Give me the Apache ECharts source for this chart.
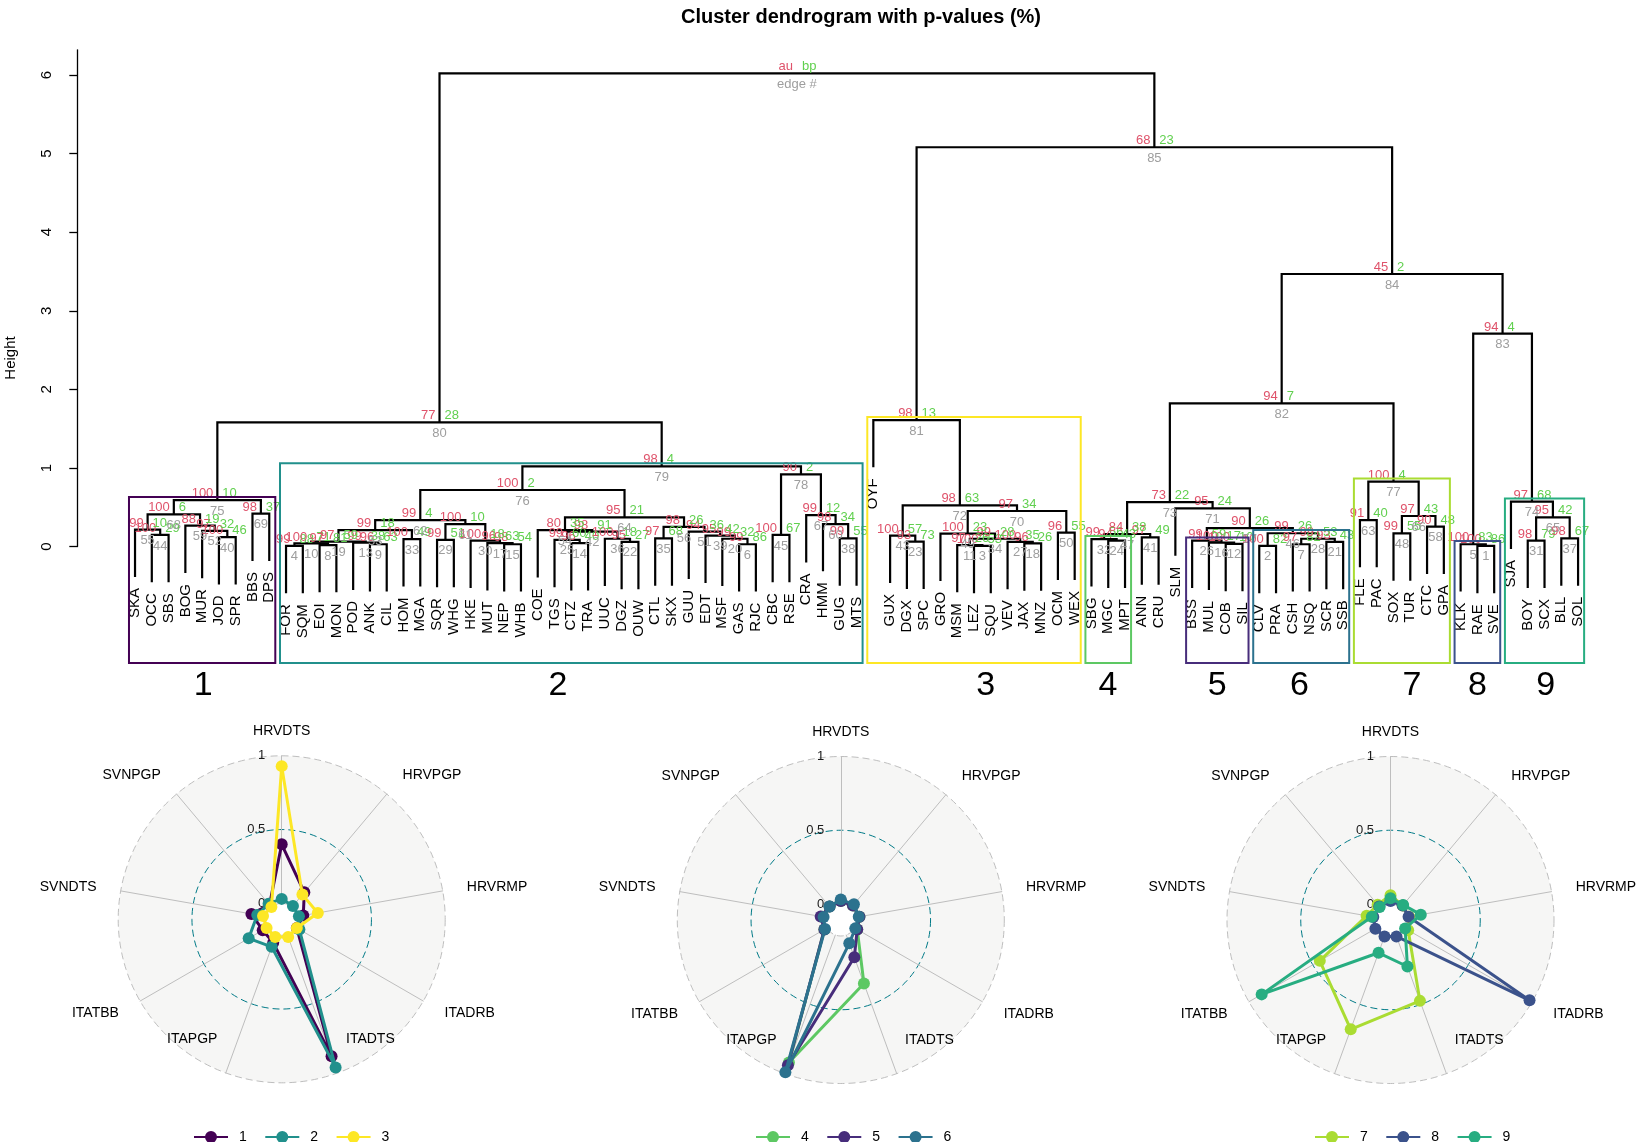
<!DOCTYPE html>
<html><head><meta charset="utf-8">
<script src="https://cdn.jsdelivr.net/npm/echarts@6/dist/echarts.min.js"></script>
<style>html,body{margin:0;padding:0;background:#fff}#c{width:1650px;height:1142px}</style>
</head><body><div id="c"></div>
<script>
// ---------------- DATA ----------------
const leaves = ['SKA','OCC','SBS','BOG','MUR','JOD','SPR','BBS','DPS',
 'FOR','SQM','EOI','MON','POD','ANK','CIL','HOM','MGA','SQR','WHG','HKE','MUT','NEP','WHB','COE','TGS','CTZ','TRA','UUC','DGZ','OUW','CTL','SKX','GUU','EDT','MSF','GAS','RJC','CBC','RSE','CRA','HMM','GUG','MTS',
 'OYF','GUX','DGX','SPC','GRO','MSM','LEZ','SQU','VEV','JAX','MNZ','OCM','WEX',
 'SBG','MGC','MPT','ANN','CRU','SLM','BSS','MUL','COB','SIL','CLV','PRA','CSH','NSQ','SCR','SSB',
 'FLE','PAC','SOX','TUR','CTC','GPA','KLK','RAE','SVE','SJA','BOY','SCX','BLL','SOL'];

// merges: [left, right, height]; negative = leaf position (1-based), positive = earlier merge row (1-based)
const merges = [
 [-2,-3,0.148],[-1,1,0.215],[-6,-7,0.12],[-5,3,0.2],[-4,4,0.266],[2,5,0.41],[-8,-9,0.42],[6,7,0.59],
 [-10,-11,0.01],[-12,-13,0.02],[9,10,0.04],[-15,-16,0.03],[-14,12,0.05],[11,13,0.063],[-17,-18,0.095],[14,15,0.21],
 [-19,-20,0.085],[-23,-24,0.03],[-22,18,0.045],[-21,19,0.075],[17,20,0.287],[16,21,0.338],
 [-27,-28,0.045],[-26,23,0.085],[-30,-31,0.06],[-29,25,0.1],[24,26,0.19],[-25,27,0.21],
 [-32,-33,0.105],[-37,-38,0.03],[-36,30,0.1],[-35,31,0.14],[-34,32,0.19],[29,33,0.25],[28,34,0.373],[22,35,0.72],
 [-39,-40,0.148],[-43,-44,0.105],[-42,38,0.287],[-41,39,0.40],[37,40,0.92],[36,41,1.02],[8,42,1.58],
 [-47,-48,0.063],[-46,44,0.14],[-51,-52,0.01],[-50,46,0.02],[-54,-55,0.04],[-53,48,0.06],[47,49,0.1],[-49,50,0.165],
 [-56,-57,0.177],[51,52,0.453],[45,53,0.525],[-45,54,1.61],
 [-59,-60,0.075],[-58,56,0.095],[-61,-62,0.118],[57,58,0.16],
 [-66,-67,0.035],[-65,60,0.05],[-64,61,0.075],
 [-68,-69,0.01],[-70,-71,0.03],[-72,-73,0.06],[64,65,0.1],[63,66,0.17],[62,67,0.235],[-63,68,0.487],[59,69,0.565],
 [-74,-75,0.338],[-76,-77,0.169],[-78,-79,0.253],[72,73,0.389],[71,74,0.826],[70,75,1.823],
 [-81,-82,0.01],[-80,77,0.03],
 [-84,-85,0.075],[-86,-87,0.105],[79,80,0.373],[-83,81,0.571],
 [78,82,2.71],[76,83,3.468],[55,84,5.08],[43,85,6.02]
];
const au = [100,99,100,97,88,100,98,100, 99,97,100,96,99,97,100,99, 99,98,96,100,100,99,
 96,99,95,100,98,80, 97,99,99,95,94,98,95,100, 100,99,98,99,90,98,77,
 93,100,100,97,96,100,99,100, 96,97,98,98, 94,99,97,84, 100,100,99,
 100,97,93,99,99,90,95,73, 91,99,90,97,100,94, 100,100, 98,98,95,97, 94,45,68,'au'];
const bp = [29,10,46,32,19,6,37,10, 88,81,71,63,38,59,49,18, 51,54,63,18,10,4,
 40,60,27,18,91,35, 68,86,32,42,36,26,21,2, 67,55,34,12,2,4,28,
 73,57,53,26,26,35,28,23, 55,34,63,13, 43,56,49,38, 10,17,59,
 82,82,43,53,26,26,24,22, 40,55,48,43,4,7, 86,83, 79,67,42,68, 4,2,23,'bp'];
const edgeNo = [44,55,40,52,59,68,69,75, 4,8,10,9,13,19,33,53, 29,15,17,30,61,62,
 14,25,22,36,42,54, 35,6,20,39,51,56,64,76, 45,38,60,67,78,79,80,
 23,43,3,11,18,27,34,49, 50,70,72,81, 24,32,41,47, 12,16,26,
 2,7,21,28,46,57,71,73, 63,48,58,66,77,82, 1,5, 31,37,65,74, 83,84,85,'edge #'];

// highlighted clusters: [first leaf, last leaf, merge row of cluster top]
const clusters = [[1,9,8],[10,44,42],[45,57,55],[58,60,57],[64,67,62],[68,73,67],[74,79,75],[80,82,78],[83,87,82]];
const clusterNames = ['1','2','3','4','5','6','7','8','9'];
const clusterColors = ['#440154','#21908C','#FDE725','#5DC863','#472D7B','#2C728E','#AADC32','#3B528B','#27AD81'];
const yTicks = [0,1,2,3,4,5,6];

// radar profiles (scaled 0..1)
const varNames = ['HRVDTS','HRVPGP','HRVRMP','ITADRB','ITADTS','ITAPGP','ITATBB','SVNDTS','SVNPGP'];
const radarTicks = [0, 0.5, 1];
const prof1 = [0.40,0.13,0.04,0.01,0.88,0.06,0.04,0.10,0.02];
const prof2 = [0.03,0.01,0.01,0.03,0.96,0.09,0.15,0.06,0.03];
const prof3 = [0.93,0.11,0.14,0.01,0.02,0.02,0.01,0.02,0.00];
const prof4 = [0.02,0.02,0.02,0.02,0.35,0.92,0.02,0.02,0.01];
const prof5 = [0.02,0.02,0.02,0.02,0.16,0.94,0.02,0.03,0.01];
const prof6 = [0.03,0.03,0.015,0.005,0.06,0.99,0.015,0.01,0.01];
const prof7 = [0.06,0.02,0.02,0.03,0.475,0.68,0.445,0.056,0.027];
const prof8 = [0.02,0.02,0.016,0.98,0.01,0.01,0.01,0.01,0.01];
const prof9 = [0.039,0.025,0.10,0.006,0.227,0.128,0.90,0.02,0.006];
const radarGroups = [[prof1,prof2,prof3],[prof4,prof5,prof6],[prof7,prof8,prof9]];

// ---------------- LAYOUT / STYLE ----------------
const FONT = 'Liberation Sans, Arial, Helvetica, sans-serif';
const HANG = 0.1 * Math.max(...merges.map(m => m[2]));
const BOX_PAD = 0.36, BOX_TOP = 0.04, BOX_BOTTOM = -1.48;
const clusterLabelX = [5.06, 26.2, 51.7, 58.98, 65.5, 70.4, 77.1, 81.0, 85.07];
const RADAR_CENTERS = [[281.7,919.3],[840.8,920],[1390.5,920]];
const R_OUT = 163.5, R_IN = 16;
const LEG_LEFT = [189, 751, 1310];

// ---------------- GEOMETRY ----------------
const nodeX = [], leafBottom = new Array(leaves.length);
const refX = r => r < 0 ? -r : nodeX[r - 1];
merges.forEach((m, i) => {
  nodeX[i] = (refX(m[0]) + refX(m[1])) / 2;
  [m[0], m[1]].forEach(r => { if (r < 0) leafBottom[-r - 1] = m[2] - HANG; });
});
const refY = r => r < 0 ? leafBottom[-r - 1] : merges[r - 1][2];
const segs = merges.map((m, i) => ({xl: refX(m[0]), yl: refY(m[0]), xr: refX(m[1]), yr: refY(m[1]), h: m[2], xm: nodeX[i]}));

function txt(x, y, text, fill, size, align, valign, extra) {
  return Object.assign({type: 'text', x: x, y: y, z2: 10,
    style: {text: String(text), fill: fill, fontSize: size, fontFamily: FONT, align: align, verticalAlign: valign}}, extra || {});
}

function renderMerge(params, api) {
  const i = params.dataIndex, s = segs[i];
  const a = api.coord([s.xl, s.yl]), b = api.coord([s.xl, s.h]), c = api.coord([s.xr, s.h]), d = api.coord([s.xr, s.yr]);
  const m = api.coord([s.xm, s.h]);
  return {type: 'group', children: [
    {type: 'polyline', z2: 1, shape: {points: [a, b, c, d]}, style: {stroke: '#000', lineWidth: 2.2, fill: 'none', lineJoin: 'miter'}},
    txt(m[0] - 4, m[1] - 6.5, au[i], '#DF536B', 13, 'right', 'middle'),
    txt(m[0] + 5, m[1] - 6.5, bp[i], '#61D04F', 13, 'left', 'middle'),
    txt(m[0], m[1] + 4.5, edgeNo[i], '#9E9E9E', 13, 'center', 'top')
  ]};
}
function renderLeaf(params, api) {
  const i = params.dataIndex;
  const p = api.coord([i + 1, leafBottom[i]]);
  return txt(p[0], p[1] + 11, leaves[i], '#000', 15, 'right', 'middle', {rotation: Math.PI / 2});
}
function renderBox(params, api) {
  const k = params.dataIndex, cl = clusters[k];
  const tl = api.coord([cl[0] - BOX_PAD, merges[cl[2] - 1][2] + BOX_TOP]);
  const br = api.coord([cl[1] + BOX_PAD, BOX_BOTTOM]);
  const lab = api.coord([clusterLabelX[k], BOX_BOTTOM]);
  return {type: 'group', children: [
    {type: 'rect', shape: {x: tl[0], y: tl[1], width: br[0] - tl[0], height: br[1] - tl[1]},
     style: {stroke: clusterColors[k], lineWidth: 2, fill: 'none'}},
    txt(lab[0], lab[1] + 23, clusterNames[k], '#000', 34, 'center', 'middle')
  ]};
}

// radar indicator order (ECharts goes counter-clockwise; reference is clockwise)
const order = [0, 8, 7, 6, 5, 4, 3, 2, 1];
const radars = RADAR_CENTERS.map(c => ({
  center: c, radius: [R_IN, R_OUT], startAngle: 90, shape: 'circle', splitNumber: 2,
  indicator: order.map(k => ({name: varNames[k], min: 0, max: 1})),
  axisName: {show: false},
  axisLine: {lineStyle: {color: '#BEBEBE', width: 1}},
  axisTick: {show: false}, axisLabel: {show: false},
  splitLine: {lineStyle: {color: ['#BEBEBE', '#007A87', '#BEBEBE'], type: [7, 4], width: 1}},
  splitArea: {show: true, areaStyle: {color: ['#F6F6F5']}}
}));

const series = [
  {type: 'custom', renderItem: renderMerge, data: segs.map(s => [s.xm, s.h]), encode: {x: 0, y: 1}, silent: true, z: 3},
  {type: 'custom', renderItem: renderLeaf, data: leaves.map((n, i) => [i + 1, leafBottom[i]]), encode: {x: 0, y: 1}, silent: true, z: 3},
  {type: 'custom', renderItem: renderBox, data: clusters.map(c => [c[0], 0]), encode: {x: 0, y: 1}, silent: true, z: 5}
];
radarGroups.forEach((grp, g) => {
  grp.forEach((prof, j) => {
    const ci = g * 3 + j;
    series.push({type: 'radar', radarIndex: g, name: clusterNames[ci], symbol: 'circle', symbolSize: 12, silent: true, z: 2 + j,
      lineStyle: {width: 3, color: clusterColors[ci]}, itemStyle: {color: clusterColors[ci]},
      data: [{name: clusterNames[ci], value: order.map(k => prof[k])}]});
  });
});

const graphics = [txt(10.5, 358, 'Height', '#000', 15, 'center', 'middle', {rotation: Math.PI / 2})];
RADAR_CENTERS.forEach(c => {
  varNames.forEach((nm, k) => {
    const ang = (90 - 40 * k) * Math.PI / 180;
    const cs = Math.cos(ang), sn = Math.sin(ang);
    const x = c[0] + 1.15 * R_OUT * cs;
    let y = c[1] - 1.15 * R_OUT * sn;
    if (sn < -0.9) y = c[1] + 120;
    const align = Math.abs(cs) < 0.01 ? 'center' : (cs > 0 ? 'left' : 'right');
    graphics.push(txt(x, y, nm, '#000', 14, align, 'middle'));
  });
  radarTicks.forEach(v => {
    graphics.push(txt(c[0] - 16.5, c[1] - (R_IN + v * (R_OUT - R_IN)), v, '#1a1a1a', 13, 'right', 'middle'));
  });
});

const KEY_ICON = 'path://M0,5L34,5L34,7L0,7Z M11,6A6,6,0,1,1,23,6A6,6,0,1,1,11,6Z';
const option = {
  animation: false,
  backgroundColor: '#fff',
  title: {text: 'Cluster dendrogram with p-values (%)', left: 856, top: 2, textAlign: 'center',
    textStyle: {fontSize: 20, fontWeight: 'bold', color: '#000', fontFamily: FONT}},
  grid: {left: 77.3, right: 14.2, top: 49.8, height: 496.8},
  xAxis: {type: 'value', min: -2.44, max: 90.44, show: false},
  yAxis: {type: 'value', min: 0, max: 6.32,
    axisLine: {show: true, onZero: false, lineStyle: {color: '#000', width: 1.3}},
    axisTick: {show: true, length: 8, customValues: yTicks, lineStyle: {color: '#000', width: 1.3}},
    axisLabel: {customValues: yTicks, rotate: 90, margin: 23, fontSize: 15, color: '#000', fontFamily: FONT},
    splitLine: {show: false}},
  radar: radars,
  legend: [0, 1, 2].map(g => ({
    data: clusterNames.slice(g * 3, g * 3 + 3), left: LEG_LEFT[g], top: 1125, orient: 'horizontal',
    icon: KEY_ICON, itemWidth: 34, itemHeight: 12, itemGap: 18.5, selectedMode: false,
    textStyle: {fontSize: 14, color: '#000', fontFamily: FONT, padding: [0, 0, 0, 6]}})),
  graphic: graphics,
  series: series
};
const chart = echarts.init(document.getElementById('c'), null, {renderer: 'canvas'});
chart.setOption(option);
</script></body></html>
